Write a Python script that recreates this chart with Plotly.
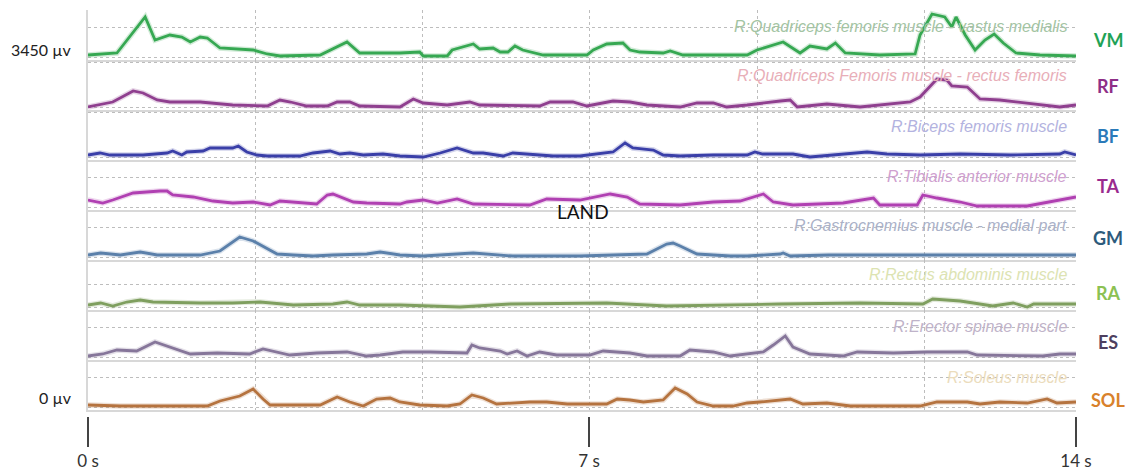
import plotly.graph_objects as go

# ---------------- data (time in s, amplitude in a.u. above each channel's baseline) ----------------
channels = ["VM", "RF", "BF", "TA", "GM", "RA", "ES", "SOL"]
muscle_names = [
    "R:Quadriceps femoris muscle - vastus medialis",
    "R:Quadriceps Femoris muscle - rectus femoris",
    "R:Biceps femoris muscle",
    "R:Tibialis anterior muscle",
    "R:Gastrocnemius muscle - medial part",
    "R:Rectus abdominis muscle",
    "R:Erector spinae muscle",
    "R:Soleus muscle",
]

vm_t = [0, 0.41, 0.81, 0.95, 1.16, 1.33, 1.45, 1.59, 1.69, 1.87, 2.34, 2.54, 2.72, 3.29, 3.67, 3.85, 4.42, 4.70,
        4.75, 5.09, 5.16, 5.27, 5.46, 5.55, 5.74, 5.84, 5.95, 6.05, 6.16, 6.45, 7.07, 7.16, 7.35, 7.58, 7.68, 7.82,
        8.15, 8.25, 8.35, 8.43, 9.34, 9.48, 9.85, 10.09, 10.23, 10.47, 10.59, 10.73, 11.22, 11.72, 11.79, 11.96,
        12.14, 12.24, 12.30, 12.43, 12.57, 12.71, 12.84, 12.97, 13.15, 13.49, 14]
vm_a = [2, 4, 40, 17, 22, 20, 15, 20, 19, 9, 7, 3, 1, 2, 15, 4, 4, 5,
        1, 1, 7, 9, 13, 8, 9, 5, 5, 11, 7, 2, 2, 7, 13, 14, 7, 5,
        4, 6, 4, 2, 2, 7, 15, 4, 11, 8, 14, 4, 2, 3, 22, 43,
        40, 30, 40, 22, 7, 17, 23, 14, 4, 2, 1]

rf_t = [0, 0.35, 0.64, 0.78, 0.98, 1.16, 1.59, 2.05, 2.54, 2.72, 2.87, 3.10, 3.39, 3.53, 3.71, 3.85, 4.42, 4.61,
        4.75, 5.09, 5.41, 5.55, 6.40, 6.55, 6.87, 7.07, 7.44, 7.68, 7.92, 8.39, 8.63, 8.86, 9.05, 9.34, 9.81, 9.95,
        10.05, 10.47, 10.94, 11.41, 11.65, 11.79, 12.03, 12.17, 12.24, 12.46, 12.64, 12.92, 13.31, 13.77, 14]
rf_a = [0, 5, 16, 14, 7, 5, 5, 2, 1, 7, 5, 1, 1, 5, 5, 1, 0, 8,
        4, 2, 5, 2, 1, 5, 5, 1, 6, 5, 2, 0, 4, 4, 0, 2, 6, 7,
        0, 3, 0, 3, 5, 10, 28, 27, 21, 20, 8, 7, 4, 0, 2]

bf_t = [0, 0.17, 0.31, 0.78, 1.12, 1.20, 1.33, 1.40, 1.63, 1.73, 2.05, 2.13, 2.25, 2.39, 2.54, 3.00, 3.19, 3.43,
        3.57, 3.71, 3.90, 4.18, 4.42, 4.75, 4.99, 5.23, 5.46, 5.60, 5.88, 6.02, 6.40, 6.59, 6.97, 7.44, 7.61, 7.72,
        8.01, 8.15, 8.39, 8.86, 9.34, 9.45, 9.56, 9.99, 10.23, 10.70, 11.04, 11.32, 11.79, 12.36, 13.07, 13.77,
        13.84, 14]
bf_a = [2, 4, 2, 2, 4, 6, 2, 5, 6, 9, 9, 11, 5, 2, 1, 1, 4, 6,
        3, 4, 2, 3, 1, 0, 4, 9, 4, 4, 1, 4, 2, 1, 1, 5, 14, 9,
        7, 2, 1, 2, 2, 5, 3, 3, 0, 3, 5, 3, 2, 3, 2, 3,
        5, 2]

ta_t = [0, 0.21, 0.35, 0.64, 1.02, 1.12, 1.20, 1.49, 1.77, 2.05, 2.34, 2.58, 2.72, 3.00, 3.24, 3.39, 3.47, 3.76,
        3.95, 4.42, 4.52, 4.75, 4.95, 5.23, 5.46, 6.26, 6.50, 6.97, 7.40, 7.64, 7.82, 8.39, 8.86, 9.24, 9.57, 9.71,
        9.99, 10.70, 11.13, 11.22, 11.75, 11.83, 12.03, 12.36, 12.60, 13.31, 13.77, 14]
ta_a = [7, 4, 7, 14, 16, 16, 12, 10, 6, 4, 5, 2, 6, 4, 3, 12, 13, 5,
        4, 3, 5, 7, 4, 8, 3, 2, 8, 7, 13, 10, 3, 2, 5, 6, 13, 5,
        2, 4, 9, 2, 2, 12, 9, 5, 1, 1, 7, 10]

gm_t = [0, 0.18, 0.46, 0.74, 0.98, 1.59, 1.87, 2.05, 2.15, 2.34, 2.54, 2.68, 2.91, 3.19, 3.47, 3.95, 4.14, 4.42,
        4.75, 5.46, 6.02, 6.97, 7.44, 7.92, 8.20, 8.29, 8.39, 8.63, 9.10, 9.34, 9.81, 9.85, 9.95, 10.5, 11.5, 12.5,
        13.5, 14]
gm_a = [2, 4, 2, 5, 2, 2, 6, 15, 20, 16, 8, 3, 2, 1, 2, 3, 5, 2,
        1, 4, 1, 1, 2, 3, 13, 14, 11, 3, 1, 1, 3, 4, 1, 2, 2, 2,
        2, 2]

ra_t = [0, 0.18, 0.35, 0.55, 0.74, 0.92, 1.59, 2.05, 2.44, 2.91, 3.47, 3.67, 3.85, 4.42, 5.27, 5.98, 7.35, 8.20,
        9.81, 10.94, 11.83, 11.97, 12.36, 12.82, 13.11, 13.31, 13.40, 14]
ra_a = [2, 4, 1, 5, 7, 5, 4, 4, 5, 2, 3, 5, 2, 2, 0, 3, 4, 1,
        3, 4, 3, 8, 6, 1, 4, 0, 3, 3]

es_t = [0, 0.21, 0.41, 0.69, 0.95, 1.20, 1.45, 1.83, 2.29, 2.48, 2.68, 2.86, 3.24, 3.67, 3.95, 4.14, 4.46, 4.85,
        5.37, 5.44, 5.55, 5.84, 5.94, 6.08, 6.22, 6.40, 6.64, 7.11, 7.30, 7.68, 7.92, 8.39, 8.53, 8.86, 9.10, 9.57,
        9.71, 9.88, 9.99, 10.23, 10.70, 10.90, 11.41, 11.89, 12.46, 12.60, 13.53, 13.77, 14]
es_a = [1, 3, 7, 6, 15, 9, 3, 4, 3, 8, 5, 2, 4, 5, 1, 2, 5, 5,
        4, 12, 9, 6, 3, 6, 1, 5, 2, 2, 6, 4, 1, 1, 7, 5, 1, 5,
        12, 21, 10, 3, 1, 5, 4, 5, 5, 2, 1, 3, 3]

sol_t = [0, 0.46, 1.12, 1.69, 1.87, 2.15, 2.34, 2.48, 2.58, 3.29, 3.53, 3.71, 3.90, 4.09, 4.28, 4.42, 4.70, 5.09,
         5.27, 5.44, 5.60, 5.79, 6.26, 6.50, 6.79, 7.35, 7.50, 7.68, 7.87, 8.15, 8.32, 8.49, 8.63, 8.86, 9.14, 9.34,
         9.52, 9.95, 10.13, 10.47, 10.80, 11.41, 11.79, 12.03, 12.46, 12.64, 12.92, 13.31, 13.59, 13.73, 14]
sol_a = [2, 1, 1, 1, 6, 11, 18, 8, 2, 2, 10, 5, 1, 8, 9, 5, 2, 1,
         3, 12, 9, 3, 5, 5, 3, 3, 8, 7, 5, 7, 19, 13, 5, 1, 1, 4,
         5, 8, 3, 4, 1, 1, 1, 5, 5, 3, 5, 4, 8, 4, 5]

series_t = [vm_t, rf_t, bf_t, ta_t, gm_t, ra_t, es_t, sol_t]
series_a = [vm_a, rf_a, bf_a, ta_a, gm_a, ra_a, es_a, sol_a]

time_ticks = [0, 7.1, 14]
time_tick_text = ["0 s", "7 s", "14 s"]
grid_step = 2.37
amp_labels = ["3450 µv", "0 µv"]

# ---------------- styling ----------------
line_colors = ["#36a852", "#8f3f8f", "#3a3fa8", "#b040b2", "#5b80aa", "#7f9f5f", "#86769a", "#b5733f"]
abbr_colors = ["#1fa356", "#8e2f87", "#2a7ab9", "#9a2a8e", "#2d5b7c", "#8cc152", "#4e3f5f", "#d9822b"]
name_colors = ["#a3c4a3", "#e8aeb8", "#b3b3e0", "#cfa0cf", "#aab1c8", "#dce3b2", "#bfb3c9", "#ebdcbc"]
upper_grid = [30, 45, 45, 30, 30, 23, 30, 30]
name_y = [31, 31, 31, 31, 31, 33, 31, 30]
abbr_y = [17, 21, 21, 21, 19, 14, 15, 7]

# the page body has an 8 px margin, so the figure is placed at (8, 8)
OFF = 8
W, H = 1135 - OFF, 472 - OFF
TOP = 10 - OFF            # pixel row of plot top (figure coords)
BOT_PAPER = 416 - OFF     # pixel row of paper bottom (where the time ticks start)
ROW_H = 50
PH = BOT_PAPER - TOP
L = 88 - OFF
R = W - (1076 - OFF)

def py(px):
    """page-pixel row -> paper fraction"""
    return (BOT_PAPER - (px - OFF)) / PH

fig = go.Figure()
layout = dict(
    width=W, height=H,
    margin=dict(l=L, r=R, t=TOP, b=H - BOT_PAPER, pad=0),
    paper_bgcolor="white", plot_bgcolor="white",
    showlegend=False,
    font=dict(family="Lato, Liberation Sans, sans-serif", color="#222"),
)
annotations = []
GRID = "#bdbdbd"

for k, ch in enumerate(channels):
    n = k + 1
    xa = "x" if n == 1 else f"x{n}"
    ya = "y" if n == 1 else f"y{n}"
    top_px = 10 + ROW_H * k
    bot_px = top_px + ROW_H
    fig.add_trace(go.Scatter(x=series_t[k], y=series_a[k], xaxis=xa, yaxis=ya, mode="lines",
                             line=dict(color=line_colors[k], width=5.5), opacity=0.22, hoverinfo="skip"))
    fig.add_trace(go.Scatter(x=series_t[k], y=series_a[k], xaxis=xa, yaxis=ya, mode="lines",
                             line=dict(color=line_colors[k], width=2.8), name=ch))
    xkey = "xaxis" if n == 1 else f"xaxis{n}"
    ykey = "yaxis" if n == 1 else f"yaxis{n}"
    layout[xkey] = dict(
        domain=[0, 1], anchor=ya, range=[0, 14], matches=None if n == 1 else "x",
        showline=True, linecolor="#d8d8d8", linewidth=2,
        showgrid=True, gridcolor=GRID, griddash="dot", gridwidth=1,
        tick0=0, dtick=grid_step, showticklabels=False, ticks="", zeroline=False,
    )
    layout[ykey] = dict(
        domain=[py(bot_px), py(top_px)], anchor=xa, range=[-3, 47],
        tickvals=[0, upper_grid[k]], showticklabels=False, ticks="",
        showgrid=True, gridcolor=GRID, griddash="dot", gridwidth=1, zeroline=False,
        showline=True, linecolor="#d8d8d8", linewidth=2,
    )
    annotations.append(dict(x=1, xref="paper", y=name_y[k], yref=ya, xanchor="right", yanchor="middle",
                            xshift=-7, text=f"<i>{muscle_names[k]}</i>", showarrow=False,
                            font=dict(family="Liberation Sans, Arial", size=16, color=name_colors[k])))
    annotations.append(dict(x=1, xref="paper", y=abbr_y[k], yref=ya, xanchor="center", yanchor="middle",
                            xshift=32, text=f"<b>{ch}</b>", showarrow=False,
                            font=dict(family="Lato, Liberation Sans", size=18, color=abbr_colors[k])))

# bottom time axis (ticks detached from the plot)
fig.add_trace(go.Scatter(x=[None], y=[None], xaxis="x9", yaxis="y8", hoverinfo="skip"))
layout["xaxis9"] = dict(
    overlaying="x8", anchor="free", position=0, side="bottom", range=[0, 14],
    tickmode="array", tickvals=time_ticks, ticktext=time_tick_text,
    ticks="outside", ticklen=30, tickwidth=2, tickcolor="#444",
    showline=False, showgrid=False, zeroline=False,
    tickfont=dict(family="Lato, Liberation Sans", size=17, color="#333"),
)

annotations.append(dict(x=0, xref="paper", y=py(49), yref="paper", xanchor="right", yanchor="middle",
                        xshift=-14, text=amp_labels[0], showarrow=False,
                        font=dict(family="Lato, Liberation Sans", size=16, color="#222")))
annotations.append(dict(x=0, xref="paper", y=py(397), yref="paper", xanchor="right", yanchor="middle",
                        xshift=-14, text=amp_labels[1], showarrow=False,
                        font=dict(family="Lato, Liberation Sans", size=16, color="#222")))
annotations.append(dict(x=0.501, xref="paper", y=py(212), yref="paper", xanchor="center", yanchor="middle",
                        text="LAND", showarrow=False,
                        font=dict(family="Lato, Liberation Sans", size=19, color="#111")))
layout["annotations"] = annotations
fig.update_layout(**layout)
fig.write_html("out.html")
